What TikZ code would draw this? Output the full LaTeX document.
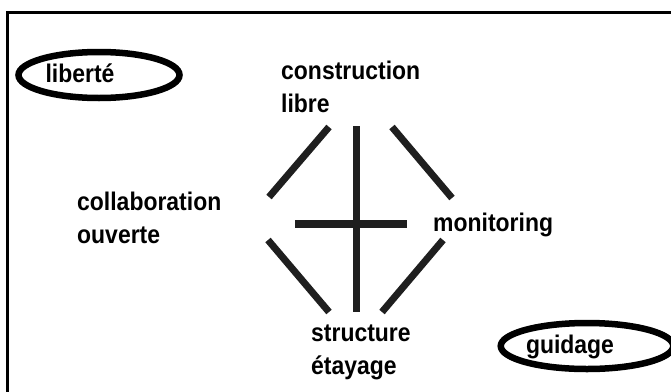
\documentclass[tikz,border=0pt]{standalone}
\usepackage{fontspec}
\setmainfont[FakeStretch=0.9]{Liberation Sans}
\usetikzlibrary{shapes.geometric}

\begin{document}
\begin{tikzpicture}[x=1pt, y=-1pt,
    lbl/.style={font=\bfseries\fontsize{25.5}{32.5}\selectfont, align=left, anchor=base west, inner sep=0pt},
    oval/.style={draw, ellipse, line width=6.5pt, minimum width=161pt, minimum height=46pt, inner sep=0pt,
      text height=16pt, text depth=1pt, font=\bfseries\fontsize{25.5}{30}\selectfont},
    bar/.style={line width=7pt, draw=black!88}]
    \useasboundingbox (0,0) rectangle (671,391);
    \draw[line width=2.5pt] (7.5,12.5) rectangle (690,410);

    \node (lib) at (99,75) [oval] {liberté\kern38pt};
    \node (gui) at (587,346) [oval] {guidage\kern34pt};

    \node (cons) at (281,112) [lbl] {construction\\libre};
    \node (coll) at (77,243) [lbl] {collaboration\\ouverte};
    \node (moni) at (433,231) [lbl] {monitoring};
    \node (stru) at (311,374) [lbl] {structure\\étayage};

    % ends of the bars
    \coordinate (tl1) at (329,127);
    \coordinate (tl2) at (269,197);
    \coordinate (tr1) at (392,127);
    \coordinate (tr2) at (452,198);
    \coordinate (bl1) at (268,240);
    \coordinate (bl2) at (329,312);
    \coordinate (br1) at (443,240);
    \coordinate (br2) at (382,312);
    \coordinate (top) at (356,126);
    \coordinate (bot) at (356,312);
    \coordinate (left) at (295,224);
    \coordinate (right) at (407,224);

    \draw[bar] (tl1) -- (tl2);
    \draw[bar] (tr1) -- (tr2);
    \draw[bar] (bl1) -- (bl2);
    \draw[bar] (br1) -- (br2);
    \draw[bar] (top) -- (bot);
    \draw[bar, line width=8pt] (left) -- (right);
\end{tikzpicture}
\end{document}
